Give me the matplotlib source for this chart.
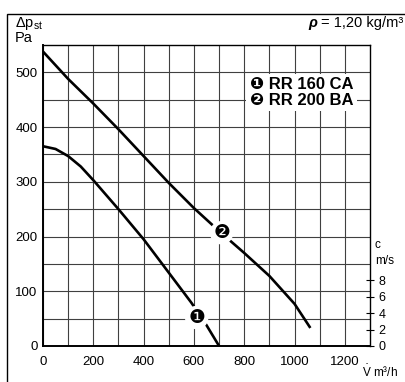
import numpy as np
import matplotlib.pyplot as plt
from matplotlib.patches import Rectangle

plt.rcParams['font.family'] = ['Liberation Sans', 'DejaVu Sans']

# curve values (flow m3/h, static pressure Pa)
q1 = [0, 50, 100, 150, 200, 300, 400, 500, 590, 650, 700]
p1 = [365, 360, 347, 328, 303, 250, 195, 134, 79, 38, 0]

q2 = [0, 100, 200, 300, 400, 500, 600, 700, 800, 900, 1000, 1060]
p2 = [538, 488, 443, 396, 347, 298, 252, 210, 170, 128, 77, 35]

x_ticks = [0, 200, 400, 600, 800, 1000, 1200]
y_ticks = [0, 100, 200, 300, 400, 500]
c_ticks = [0, 2, 4, 6, 8]

W, H = 406, 382
fig = plt.figure(figsize=(W / 100, H / 100), dpi=100)
ax = fig.add_axes([43 / W, 1 - 346 / H, 327 / W, 301 / H])

# frame round the whole chart (right and bottom edges fall outside the picture)
frame = Rectangle((7 / W, -0.05), 1, 1.05 - 14 / H, transform=fig.transFigure,
                  fill=False, ec='black', lw=1.0)
fig.add_artist(frame)

ax.plot(q1, p1, color='black', lw=1.9, zorder=3)
ax.plot(q2, p2, color='black', lw=1.9, zorder=3)

ax.set_xlim(0, 1300)
ax.set_ylim(0, 550)
ax.set_xticks(x_ticks)
ax.set_xticks(np.arange(100, 1300, 200), minor=True)
ax.set_yticks(y_ticks)
ax.set_yticks(np.arange(50, 550, 100), minor=True)
ax.grid(True, which='both', color='0.25', lw=0.8)
ax.set_axisbelow(True)
ax.tick_params(which='both', length=0)
ax.tick_params(axis='x', pad=7, labelsize=9.5)
ax.tick_params(axis='y', pad=4, labelsize=9.5)
for s in ax.spines.values():
    s.set_linewidth(1.0)
ax.spines['left'].set_linewidth(1.4)
ax.spines['bottom'].set_linewidth(1.4)

# curve number markers
circ = dict(boxstyle='circle,pad=0.12', fc='white', ec='none')
ax.text(611, 52, '❶', fontsize=13.5, ha='center', va='center', bbox=circ, zorder=5,
        family='DejaVu Sans')
ax.text(710, 207, '❷', fontsize=13.5, ha='center', va='center', bbox=circ, zorder=5,
        family='DejaVu Sans')

# legend
ax.text(822, 463, '❶ RR 160 CA\n❷ RR 200 BA', fontsize=12, fontweight='bold',
        ha='left', va='center', linespacing=1.05, zorder=5,
        bbox=dict(boxstyle='square,pad=0.2', fc='white', ec='none'))

# velocity scale on the right
ax2 = ax.twinx()
ax2.set_ylim(0, 550 / 15)
ax2.set_yticks(c_ticks)
ax2.tick_params(axis='y', direction='inout', length=6, width=0.8, pad=3, labelsize=9)
for s in ax2.spines.values():
    s.set_visible(False)
fig.text(375 / W, 1 - 245 / H, 'c', fontsize=8.5, va='center')
fig.text(375 / W, 1 - 261 / H, 'm/s', fontsize=8.5, va='center')

# labels round the plot
fig.text(15 / W, 1 - 24 / H, r'Δp$_{\mathregular{st}}$', fontsize=10.5, va='center')
fig.text(15 / W, 1 - 38 / H, 'Pa', fontsize=10.5, va='center')
fig.text(308 / W, 1 - 23 / H, 'ρ', fontsize=10.5, fontweight='bold', style='italic',
         va='center')
fig.text(321 / W, 1 - 23 / H, '= 1,20 kg/m³', fontsize=10.5, va='center')
fig.text(362 / W, 1 - 380 / H, r'$\dot{\mathregular{V}}$ m³/h', fontsize=8.5,
         va='bottom')

fig.savefig('out.png', dpi=100)
